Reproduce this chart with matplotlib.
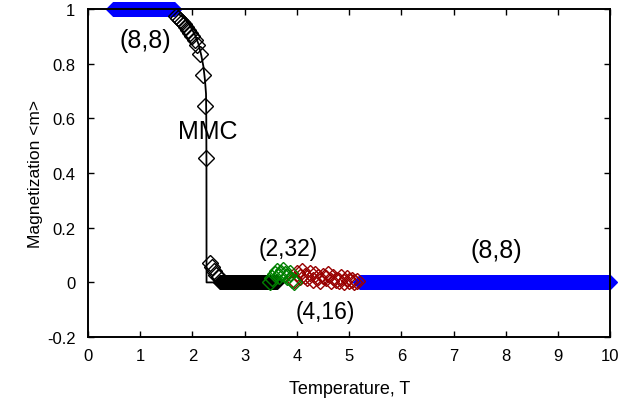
import numpy as np
import matplotlib
matplotlib.use('Agg')
import matplotlib.pyplot as plt

plt.rcParams['font.family'] = ['Liberation Sans', 'DejaVu Sans']

# exact MMC curve
line_T = [1.65, 1.75, 1.85, 1.95, 2.05, 2.12, 2.17, 2.21, 2.24, 2.26, 2.265, 2.268, 2.27, 2.6]
line_m = [0.99, 0.98, 0.965, 0.94, 0.905, 0.87, 0.83, 0.79, 0.74, 0.69, 0.6, 0.45, 0.0, 0.0]

# (8,8) low temperature run, all at m = 1
blue_low_T = np.arange(0.48, 1.66, 0.01)
blue_low_m = np.ones(len(blue_low_T))

# MMC points through the transition
trans_T = [1.68, 1.72, 1.76, 1.80, 1.84, 1.88, 1.92, 1.96, 2.00, 2.04, 2.09, 2.15, 2.21, 2.24, 2.26,
           2.34, 2.38, 2.42, 2.46, 2.51]
trans_m = [0.975, 0.968, 0.96, 0.952, 0.944, 0.935, 0.925, 0.914, 0.902, 0.888, 0.87, 0.835, 0.76, 0.645, 0.455,
           0.072, 0.055, 0.04, 0.028, 0.018]

# MMC points above Tc
black_T = np.arange(2.52, 3.62, 0.01)
black_m = np.full(len(black_T), 0.002)

# (2,32) run
green_T = [3.48, 3.53, 3.58, 3.62, 3.66, 3.70, 3.74, 3.78, 3.82, 3.86, 3.90, 3.95]
green_m = [0.0, 0.015, 0.03, 0.04, 0.025, 0.035, 0.045, 0.03, 0.02, 0.035, 0.01, 0.0]

# (4,16) run
red_T = [3.95, 4.0, 4.05, 4.1, 4.15, 4.2, 4.25, 4.3, 4.35, 4.4, 4.45, 4.5, 4.55, 4.6, 4.65,
         4.7, 4.75, 4.8, 4.85, 4.9, 4.95, 5.0, 5.05, 5.1, 5.15]
red_m = [0.01, 0.035, 0.02, 0.04, 0.025, 0.015, 0.035, 0.01, 0.03, 0.02, 0.005, 0.025, 0.015, 0.03, 0.005,
         0.02, 0.01, 0.005, 0.02, 0.0, 0.015, 0.005, 0.01, 0.0, 0.005]

# (8,8) high temperature run
blue_high_T = np.arange(5.2, 10.0, 0.01)
blue_high_m = np.full(len(blue_high_T), 0.002)

x_ticks = [0, 1, 2, 3, 4, 5, 6, 7, 8, 9, 10]
y_ticks = [-0.2, 0, 0.2, 0.4, 0.6, 0.8, 1]
y_labels = ['-0.2', '0', '0.2', '0.4', '0.6', '0.8', '1']

fig = plt.figure(figsize=(6.24, 4.02), dpi=100)
ax = fig.add_axes([0.141, 0.159, 0.837, 0.816])

mk = dict(marker='D', linestyle='none', mfc='none', clip_on=False)
ax.plot(line_T, line_m, 'k-', lw=1.3)
ax.plot(blue_low_T, blue_low_m, color='#0000ff', ms=7, mew=0.9, **mk)
ax.plot(blue_high_T, blue_high_m, color='#0000ff', ms=7, mew=0.9, **mk)
ax.plot(black_T, black_m, color='black', ms=7, mew=0.9, **mk)
ax.plot(red_T, red_m, color='#990000', ms=8, mew=1.0, **mk)
ax.plot(green_T, green_m, color='#008000', ms=8, mew=1.0, **mk)
ax.plot(trans_T, trans_m, color='black', ms=8, mew=1.0, **mk)

ax.text(1.09, 0.885, '(8,8)', fontsize=18, ha='center', va='center')
ax.text(2.3, 0.553, 'MMC', fontsize=18, ha='center', va='center')
ax.text(3.83, 0.125, '(2,32)', fontsize=16.5, ha='center', va='center')
ax.text(4.54, -0.106, '(4,16)', fontsize=16.5, ha='center', va='center')
ax.text(7.82, 0.117, '(8,8)', fontsize=18, ha='center', va='center')

ax.set_xlim(0, 10)
ax.set_ylim(-0.2, 1)
ax.set_xticks(x_ticks)
ax.set_xticklabels([str(t) for t in x_ticks])
ax.set_yticks(y_ticks)
ax.set_yticklabels(y_labels)
ax.tick_params(direction='in', top=True, right=True, length=4, width=1, labelsize=12)
ax.tick_params(axis='x', pad=8)
ax.tick_params(axis='y', pad=9)
for s in ax.spines.values():
    s.set_linewidth(1.4)

ax.set_xlabel('Temperature, T', fontsize=13, labelpad=12)
ax.set_ylabel('Magnetization <m>', fontsize=12.5, labelpad=3)

fig.savefig('out.png', dpi=100)
